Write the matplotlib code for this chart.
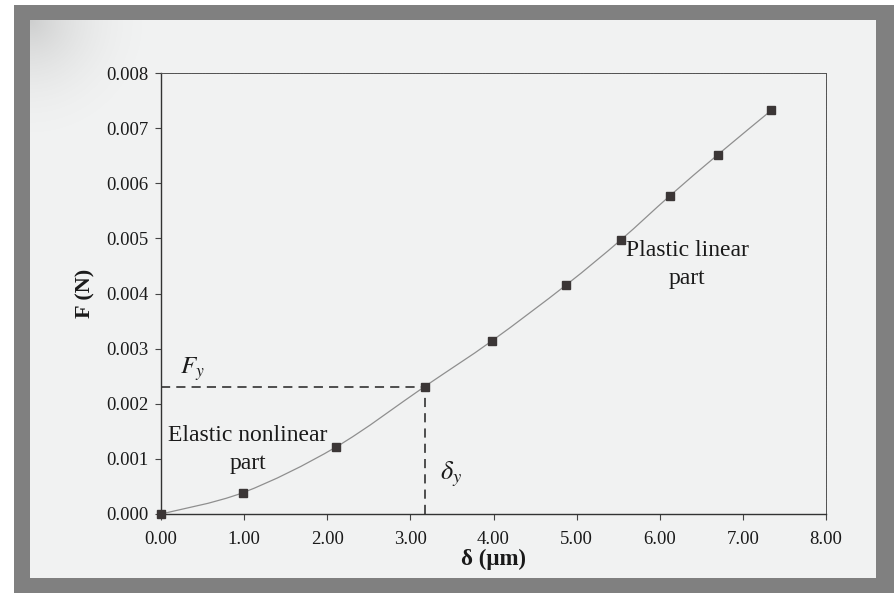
import numpy as np
import matplotlib.pyplot as plt
from matplotlib.path import Path
from matplotlib.patches import PathPatch, Rectangle

# load-displacement data
delta_um = [0.0, 0.99, 2.10, 3.17, 3.98, 4.87, 5.53, 6.12, 6.70, 7.34]
force_n = [0.0, 0.00039, 0.00121, 0.00231, 0.00314, 0.00415, 0.00497, 0.00577, 0.00652, 0.00732]

# yield point
delta_y = 3.17
f_y = 0.00230

x_ticks = [0, 1, 2, 3, 4, 5, 6, 7, 8]
y_ticks = [0, 0.001, 0.002, 0.003, 0.004, 0.005, 0.006, 0.007, 0.008]

plt.rcParams['font.family'] = ['Liberation Serif', 'DejaVu Serif']
plt.rcParams['mathtext.fontset'] = 'stix'

W, H = 894, 593
fig = plt.figure(figsize=(W / 100, H / 100), dpi=100)
fig.patch.set_facecolor('white')

# grey frame and the page inside it
fig.patches.append(Rectangle((14 / W, 0), 1 - 14 / W, 1 - 5 / H,
                             transform=fig.transFigure, facecolor='#808080', edgecolor='none', zorder=-3))
fig.patches.append(Rectangle((30 / W, 15 / H), (876 - 30) / W, (578 - 20) / H,
                             transform=fig.transFigure, facecolor='#f1f2f2', edgecolor='none', zorder=-2))

# soft shadow in the upper-left corner of the page
bg = fig.add_axes([30 / W, 1 - 160 / H, 140 / W, 140 / H], zorder=-1)
yy, xx = np.mgrid[0:1:140j, 0:1:140j]
shade = np.clip(1 - np.hypot(xx, yy) / 0.9, 0, 1) ** 2
rgba = np.zeros((140, 140, 4))
rgba[..., :3] = 0.55
rgba[..., 3] = shade * 0.35
bg.imshow(rgba, extent=[0, 1, 0, 1], origin='upper', aspect='auto', interpolation='bilinear')
bg.set_axis_off()

ax = fig.add_axes([161 / W, 1 - 514 / H, (826 - 161) / W, (514 - 73) / H])
ax.set_facecolor('none')

# smoothed line through the points (Catmull-Rom as cubic Bezier segments)
pts = np.column_stack([delta_um, force_n])
verts = [tuple(pts[0])]
codes = [Path.MOVETO]
for i in range(len(pts) - 1):
    p0 = pts[i - 1] if i > 0 else pts[i]
    p1, p2 = pts[i], pts[i + 1]
    p3 = pts[i + 2] if i + 2 < len(pts) else pts[i + 1]
    c1 = p1 + (p2 - p0) / 6
    c2 = p2 - (p3 - p1) / 6
    verts += [tuple(c1), tuple(c2), tuple(p2)]
    codes += [Path.CURVE4] * 3
ax.add_patch(PathPatch(Path(verts, codes), facecolor='none', edgecolor='#8f8f8f', lw=0.9, zorder=2))

ax.plot(delta_um, force_n, linestyle='none', marker='s', markersize=5.5,
        markerfacecolor='#3b3636', markeredgecolor='#3b3636', zorder=3, clip_on=False)

# yield guide lines
ax.plot([0, delta_y], [f_y, f_y], color='#222222', lw=1.1, dashes=(6, 4), zorder=1)
ax.plot([delta_y, delta_y], [0, f_y], color='#222222', lw=1.1, dashes=(6, 4), zorder=1)

ax.set_xlim(0, 8)
ax.set_ylim(0, 0.008)
ax.set_xticks(x_ticks)
ax.set_xticklabels([f'{v:.2f}' for v in x_ticks])
ax.set_yticks(y_ticks)
ax.set_yticklabels([f'{v:.3f}' for v in y_ticks])
ax.tick_params(direction='out', length=4, width=0.8, colors='#444444', labelcolor='#1a1a1a',
               labelsize=13.5)
ax.tick_params(axis='x', pad=8)
ax.tick_params(axis='y', pad=5)

for side in ['left', 'bottom']:
    ax.spines[side].set_color('#333333')
    ax.spines[side].set_linewidth(1.0)
for side in ['top', 'right']:
    ax.spines[side].set_color('#555555')
    ax.spines[side].set_linewidth(0.7)
    ax.spines[side].set_linestyle((0, (1, 0.6)))

ax.set_xlabel('δ (μm)', fontsize=16.5, fontweight='bold', labelpad=1, color='#1a1a1a')
ax.set_ylabel('F (N)', fontsize=16, fontweight='bold', labelpad=8, color='#1a1a1a')

ax.text(0.23, 0.00255, '$F_y$', fontsize=18, color='#1a1a1a')
ax.text(3.36, 0.00062, r'$\delta_y$', fontsize=19, color='#1a1a1a')
ax.text(1.04, 0.00117, 'Elastic nonlinear\npart', fontsize=17, ha='center', va='center',
        linespacing=1.45, color='#1a1a1a')
ax.text(6.33, 0.00453, 'Plastic linear\npart', fontsize=17, ha='center', va='center',
        linespacing=1.45, color='#1a1a1a')

fig.savefig('out.png', dpi=100)
